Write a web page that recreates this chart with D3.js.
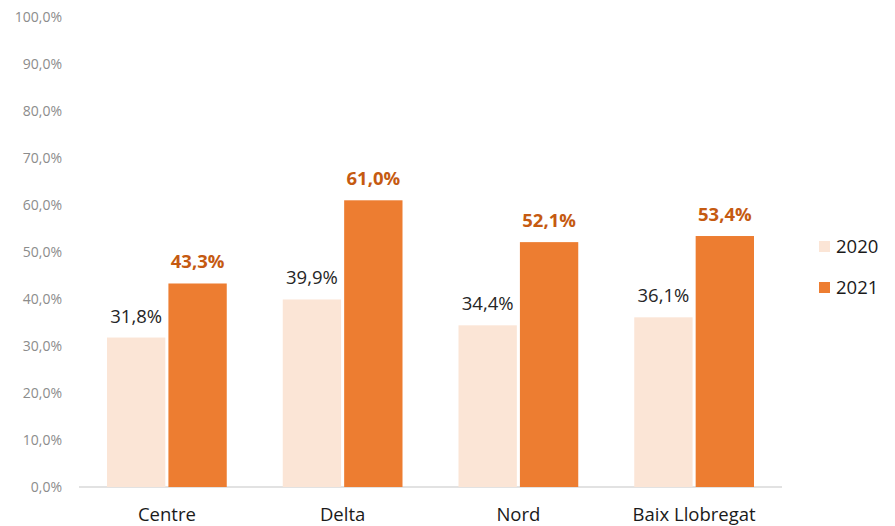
<!DOCTYPE html>
<meta charset="utf-8">
<script src="https://d3js.org/d3.v7.min.js"></script>
<style>
  body { margin: 0; background: #fff; }
</style>
<div id="chart"></div>
<script>
// data
var regions = ["Centre", "Delta", "Nord", "Baix Llobregat"];
var years = ["2020", "2021"];
var values2020 = [31.8, 39.9, 34.4, 36.1];
var values2021 = [43.3, 61.0, 52.1, 53.4];
var yTicks = [0, 10, 20, 30, 40, 50, 60, 70, 80, 90, 100];

var colors = { "2020": "#fbe5d6", "2021": "#ed7d31" };

var W = 895, H = 526;
var margin = { top: 17, right: 113, bottom: 39, left: 79 };
var width = W - margin.left - margin.right,
    height = H - margin.top - margin.bottom;

var svg = d3.select("#chart").append("svg")
    .attr("width", W).attr("height", H)
  .append("g")
    .attr("transform", "translate(" + margin.left + "," + margin.top + ")");

var rows = regions.map(function(r, i) {
  return { region: r, "2020": values2020[i], "2021": values2021[i] };
});

var fmt = function(v) { return v.toFixed(1).replace(".", ",") + "%"; };

var x = d3.scaleBand().domain(regions).range([0, width]).padding(0);
var xSub = d3.scaleBand().domain(years).range([28, x.bandwidth() - 28]).paddingInner(0.05);
var y = d3.scaleLinear().domain([0, 100]).range([height, 0]);

// y axis labels
var yAxis = svg.append("g")
    .call(d3.axisLeft(y).tickValues(yTicks).tickSize(0).tickPadding(17)
      .tickFormat(function(d) { return fmt(d); }));
yAxis.select(".domain").remove();
yAxis.selectAll("text")
    .attr("fill", "#8c8c8c")
    .style("font-family", "'Open Sans', sans-serif")
    .style("font-size", "14px");

// baseline
svg.append("line")
    .attr("x1", 0).attr("x2", width)
    .attr("y1", y(0)).attr("y2", y(0))
    .attr("stroke", "#d9d9d9").attr("stroke-width", 1.5);

// x axis labels
svg.append("g").selectAll("text")
  .data(regions)
  .enter().append("text")
    .attr("x", function(d) { return x(d) + x.bandwidth() / 2; })
    .attr("y", height + 34)
    .attr("text-anchor", "middle")
    .attr("fill", "#1a1a1a")
    .style("font-family", "'Open Sans', sans-serif")
    .style("font-size", "18.5px")
    .text(function(d) { return d; });

// bars
var groups = svg.selectAll(".grp")
  .data(rows)
  .enter().append("g")
    .attr("transform", function(d) { return "translate(" + x(d.region) + ",0)"; });

groups.selectAll("rect")
  .data(function(d) { return years.map(function(k) { return { key: k, value: d[k] }; }); })
  .enter().append("rect")
    .attr("x", function(d) { return xSub(d.key); })
    .attr("width", xSub.bandwidth())
    .attr("y", function(d) { return y(d.value); })
    .attr("height", function(d) { return y(0) - y(d.value); })
    .attr("fill", function(d) { return colors[d.key]; });

groups.selectAll(".lbl")
  .data(function(d) { return years.map(function(k) { return { key: k, value: d[k] }; }); })
  .enter().append("text")
    .attr("x", function(d) { return xSub(d.key) + xSub.bandwidth() / 2; })
    .attr("y", function(d) { return y(d.value) - 15; })
    .attr("text-anchor", "middle")
    .attr("fill", function(d) { return d.key === "2021" ? "#c55a11" : "#262626"; })
    .style("font-family", "'Open Sans', sans-serif")
    .style("font-size", "18.5px")
    .style("font-weight", function(d) { return d.key === "2021" ? "bold" : "normal"; })
    .text(function(d) { return fmt(d.value); });

// legend
var legend = svg.append("g")
    .attr("transform", "translate(" + (width + 37) + ",224)");
legend.selectAll("g")
  .data(years)
  .enter().append("g")
    .attr("transform", function(d, i) { return "translate(0," + (i * 41) + ")"; })
  .each(function(d) {
    var g = d3.select(this);
    g.append("rect").attr("x", 0).attr("y", 0).attr("width", 11).attr("height", 11)
      .attr("fill", colors[d]);
    g.append("text").attr("x", 17).attr("y", 6).attr("dy", "0.35em")
      .attr("fill", "#1a1a1a")
      .style("font-family", "'Open Sans', sans-serif")
      .style("font-size", "18.5px")
      .text(d);
  });
</script>
